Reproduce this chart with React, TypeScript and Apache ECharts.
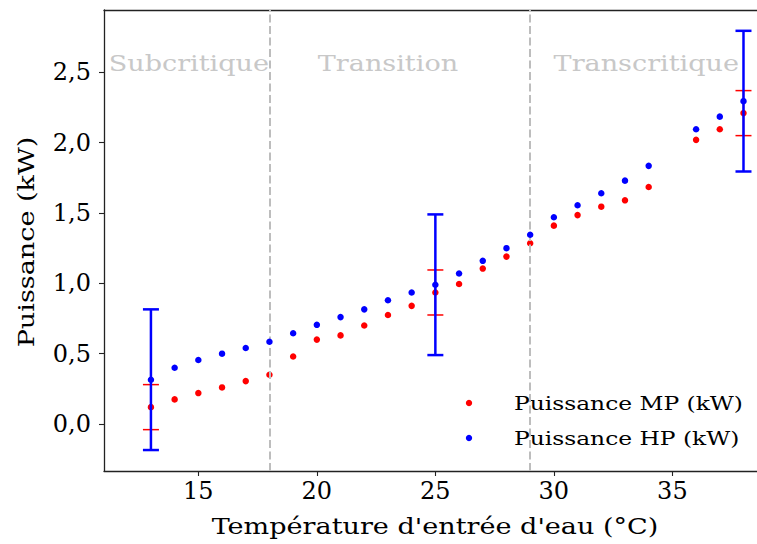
import React, { useEffect, useRef } from "react";
import * as echarts from "echarts";

const temperatures = [13, 14, 15, 16, 17, 18, 19, 20, 21, 22, 23, 24, 25, 26, 27, 28, 29, 30, 31, 32, 33, 34, 36, 37, 38];
const puissanceMP = [0.12, 0.175, 0.22, 0.26, 0.305, 0.35, 0.48, 0.6, 0.63, 0.7, 0.775, 0.84, 0.935, 0.995, 1.105, 1.19, 1.285, 1.41, 1.485, 1.545, 1.59, 1.685, 2.02, 2.095, 2.21];
const puissanceHP = [0.315, 0.4, 0.455, 0.5, 0.54, 0.585, 0.645, 0.705, 0.76, 0.815, 0.88, 0.935, 0.99, 1.07, 1.16, 1.25, 1.345, 1.47, 1.555, 1.64, 1.73, 1.835, 2.095, 2.185, 2.295];
const errorTemps = [13, 25, 38];
const errorMP = [0.16, 0.16, 0.16];
const errorHP = [0.5, 0.5, 0.5];
const regionBounds = [18, 29];
const regionLabels = ["Subcritique", "Transition", "Transcritique"];
const regionLabelX = [14.6, 23, 33.9];
const xTicks = [15, 20, 25, 30, 35];
const yTicks = [0, 0.5, 1, 1.5, 2, 2.5];
const seriesNames = ["Puissance MP (kW)", "Puissance HP (kW)"];
const xTitle = "Température d'entrée d'eau (°C)";
const yTitle = "Puissance (kW)";

const FONT = "DejaVu Serif";
const STRETCH = 1.23;

function errData(err: number[], vals: number[]) {
  return errorTemps.map((t, i) => {
    const idx = temperatures.indexOf(t);
    return [t, vals[idx], err[i]];
  });
}

function errSeries(name: string, color: string, width: number, data: number[][], z: number) {
  return {
    type: "custom",
    name: name + " err",
    z,
    silent: true,
    data,
    renderItem: (params: any, api: any) => {
      const x = api.value(0);
      const y = api.value(1);
      const e = api.value(2);
      const top = api.coord([x, y + e]);
      const bot = api.coord([x, y - e]);
      const cw = 8;
      const style = { stroke: color, lineWidth: width };
      return {
        type: "group",
        children: [
          { type: "line", shape: { x1: top[0], y1: top[1], x2: bot[0], y2: bot[1] }, style },
          { type: "line", shape: { x1: top[0] - cw, y1: top[1], x2: top[0] + cw, y2: top[1] }, style },
          { type: "line", shape: { x1: bot[0] - cw, y1: bot[1], x2: bot[0] + cw, y2: bot[1] }, style },
        ],
      };
    },
  };
}

export default function App() {
  const ref = useRef<HTMLDivElement>(null);
  useEffect(() => {
    if (!ref.current) return;
    const chart = echarts.init(ref.current, null, { renderer: "svg" });
    const xMin = 11.02;
    const xMax = 38.57;
    const yMin = -0.334;
    const yMax = 2.943;
    const gridLeft = 104;
    const gridTop = 10;
    const gridBottom = 73;
    const plotW = 757 - gridLeft;
    const toPx = (v: number) => gridLeft + ((v - xMin) / (xMax - xMin)) * plotW;

    const mpData = temperatures.map((t, i) => [t, puissanceMP[i]]);
    const hpData = temperatures.map((t, i) => [t, puissanceHP[i]]);

    const option: any = {
      animation: false,
      grid: { left: gridLeft, right: 0, top: gridTop, bottom: gridBottom, containLabel: false },
      xAxis: [
        {
          type: "value",
          min: xMin,
          max: xMax,
          axisLine: { show: true, onZero: false, lineStyle: { color: "#222", width: 1.3 } },
          axisTick: { show: true, length: 5, inside: false, customValues: xTicks, lineStyle: { color: "#222", width: 1.1 } },
          axisLabel: { customValues: xTicks, fontFamily: FONT, fontSize: 24, color: "#000", margin: 8 },
          splitLine: { show: false },
        },
        {
          type: "value",
          position: "top",
          min: xMin,
          max: xMax,
          axisLine: { show: true, onZero: false, lineStyle: { color: "#222", width: 1.3 } },
          axisTick: { show: false },
          axisLabel: { show: false },
          splitLine: { show: false },
        },
      ],
      yAxis: {
        type: "value",
        min: yMin,
        max: yMax,
        axisLine: { show: true, onZero: false, lineStyle: { color: "#222", width: 1.3 } },
        axisTick: { show: true, length: 5, customValues: yTicks, lineStyle: { color: "#222", width: 1.1 } },
        axisLabel: {
          customValues: yTicks,
          fontFamily: FONT,
          fontSize: 24,
          color: "#000",
          margin: 13,
          formatter: (v: number) => v.toFixed(1).replace(".", ","),
        },
        splitLine: { show: false },
      },
      series: [
        {
          type: "scatter",
          name: seriesNames[0],
          data: mpData,
          symbol: "circle",
          symbolSize: 6.5,
          itemStyle: { color: "#ff0000", opacity: 1 },
          z: 2,
          markLine: {
            silent: true,
            symbol: "none",
            label: { show: false },
            lineStyle: { color: "#bdbdbd", type: [8, 3.5], width: 2 },
            data: regionBounds.map((b) => ({ xAxis: b })),
          },
        },
        errSeries(seriesNames[0], "#ff0000", 1.5, errData(errorMP, puissanceMP), 3),
        errSeries(seriesNames[1], "#0000ff", 2.5, errData(errorHP, puissanceHP), 4),
        {
          type: "scatter",
          name: seriesNames[1],
          data: hpData,
          symbol: "circle",
          symbolSize: 6.5,
          itemStyle: { color: "#0000ff", opacity: 1 },
          z: 5,
        },
      ],
      graphic: [
        ...regionLabels.map((t, i) => ({
          type: "text",
          x: toPx(regionLabelX[i]),
          y: 63,
          scaleX: STRETCH,
          style: {
            text: t,
            fontFamily: FONT,
            fontSize: 22,
            fill: "#c8c8c8",
            align: "center",
            verticalAlign: "middle",
          },
          z: 1,
        })),
        {
          type: "text",
          x: 435,
          y: 526,
          scaleX: STRETCH,
          style: { text: xTitle, fontFamily: FONT, fontSize: 22, fill: "#000", align: "center", verticalAlign: "middle" },
        },
        {
          type: "text",
          x: 26,
          y: 242,
          rotation: Math.PI / 2,
          scaleX: STRETCH,
          style: { text: yTitle, fontFamily: FONT, fontSize: 22, fill: "#000", align: "center", verticalAlign: "middle" },
        },
        { type: "circle", shape: { cx: 469, cy: 403, r: 3.2 }, style: { fill: "#ff0000" } },
        { type: "circle", shape: { cx: 469, cy: 438, r: 3.2 }, style: { fill: "#0000ff" } },
        {
          type: "text",
          x: 514,
          y: 403,
          scaleX: STRETCH,
          style: { text: seriesNames[0], fontFamily: FONT, fontSize: 19, fill: "#000", align: "left", verticalAlign: "middle" },
        },
        {
          type: "text",
          x: 514,
          y: 438,
          scaleX: STRETCH,
          style: { text: seriesNames[1], fontFamily: FONT, fontSize: 19, fill: "#000", align: "left", verticalAlign: "middle" },
        },
      ],
    };
    chart.setOption(option);
    return () => chart.dispose();
  }, []);
  return <div ref={ref} style={{ position: "fixed", left: 0, top: 0, width: 757, height: 544, background: "#fff" }} />;
}
